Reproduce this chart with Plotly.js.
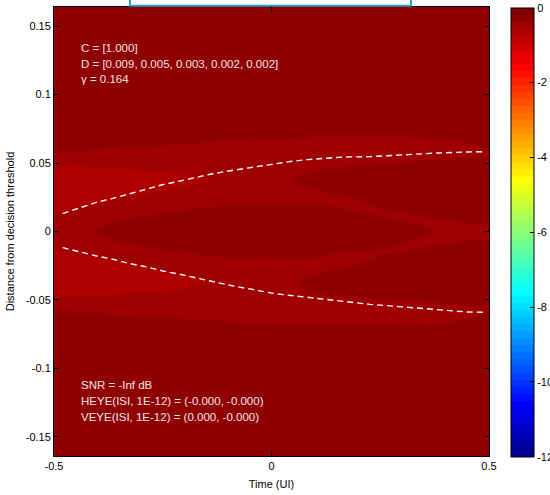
<!DOCTYPE html>
<html><head><meta charset="utf-8">
<script src="https://cdn.plot.ly/plotly-3.0.1.min.js"></script>
<style>html,body{margin:0;padding:0;background:#fff;}#chart{width:550px;height:495px;}</style>
</head><body><div id="chart"></div>
<script>
// ---------- data ----------
const zMin = -12, zMax = 0;
const cbTickVals = [-12, -10, -8, -6, -4, -2, 0];
const cbTickText = ['-12', '-10', '-8', '-6', '-4', '-2', '0'];
const xTickVals = [-0.5, 0, 0.5];
const xTickText = ['-0.5', '0', '0.5'];
const yTickVals = [-0.15, -0.1, -0.05, 0, 0.05, 0.1, 0.15];
const yTickText = ['-0.15', '-0.1', '-0.05', '0', '0.05', '0.1', '0.15'];

// level (log10) of each zone
const darkValue = -0.28;
const mediumValue = -0.47;
const lightValue = -0.66;

// background field (whole plane)
const baseX = [-0.5, 0.5];
const baseY = [-0.164, 0.164];

// medium band around the eye
const bandX = [-0.5, 0.5];
const bandTop = [0.057, 0.058];
const bandBottom = [-0.057, -0.057];

// light wedges on the left
const lightUpX = [-0.5, -0.45, -0.4, -0.3, -0.2, -0.14];
const lightUpTop = [0.048, 0.0475, 0.047, 0.045, 0.042, 0.037];
const lightUpBottom = [0.012, 0.016, 0.020, 0.027, 0.033, 0.037];
const lightLoX = [-0.5, -0.45, -0.4, -0.3, -0.2, -0.14];
const lightLoTop = [-0.012, -0.016, -0.019, -0.026, -0.032, -0.036];
const lightLoBottom = [-0.048, -0.0475, -0.047, -0.045, -0.042, -0.036];

// dark eye centre
const eyeX = [-0.41, -0.35, -0.28, -0.16, -0.1, 0, 0.1, 0.157, 0.27, 0.35, 0.38];
const eyeTop = [0, 0.008, 0.012, 0.017, 0.019, 0.020, 0.0195, 0.017, 0.010, 0.004, 0];
const eyeBottom = [0, -0.008, -0.012, -0.017, -0.019, -0.019, -0.019, -0.016, -0.012, -0.004, 0];

// dark lobes on the right
const lobeUpX = [0.043, 0.1, 0.157, 0.27, 0.38, 0.5];
const lobeUpTop = [0.037, 0.045, 0.047, 0.050, 0.052, 0.053];
const lobeUpBottom = [0.037, 0.030, 0.026, 0.015, 0.0095, 0.007];
const lobeLoX = [0.06, 0.1, 0.157, 0.27, 0.38, 0.5];
const lobeLoTop = [-0.038, -0.031, -0.027, -0.016, -0.010, -0.007];
const lobeLoBottom = [-0.038, -0.045, -0.047, -0.050, -0.052, -0.053];

// dashed eye contour
const upperEdgeX = [-0.48, -0.44, -0.40, -0.367, -0.325, -0.287, -0.249, -0.21, -0.172, -0.141, -0.103, -0.069, -0.03, 0.008, 0.043, 0.081, 0.119, 0.165, 0.226, 0.265, 0.337, 0.38, 0.449, 0.487];
const upperEdgeY = [0.0131, 0.0172, 0.0216, 0.024, 0.0277, 0.0308, 0.0343, 0.0369, 0.0398, 0.0418, 0.044, 0.0457, 0.0479, 0.0496, 0.0511, 0.0525, 0.0533, 0.0544, 0.0547, 0.0554, 0.0564, 0.0573, 0.0581, 0.0583];
const lowerEdgeX = [-0.48, -0.44, -0.402, -0.364, -0.325, -0.287, -0.249, -0.21, -0.172, -0.141, -0.103, -0.069, -0.03, 0.008, 0.043, 0.081, 0.119, 0.165, 0.226, 0.295, 0.341, 0.38, 0.41, 0.449, 0.487];
const lowerEdgeY = [-0.0118, -0.015, -0.0179, -0.0203, -0.0235, -0.0259, -0.0289, -0.0313, -0.0337, -0.0362, -0.0388, -0.041, -0.0432, -0.0454, -0.0466, -0.0483, -0.0497, -0.051, -0.0532, -0.0549, -0.0559, -0.0568, -0.0578, -0.0588, -0.059];

const topNotes = ['C = [1.000]', 'D = [0.009, 0.005, 0.003, 0.002, 0.002]', '\u03b3 = 0.164'];
const bottomNotes = ['SNR = -Inf dB', 'HEYE(ISI, 1E-12) = (-0.000, -0.000)', 'VEYE(ISI, 1E-12) = (0.000, -0.000)'];

// ---------- MATLAB jet(64) colormap ----------
function jet64() {
  const m = 64, n = 16;
  const u = [];
  for (let i = 1; i <= n; i++) u.push(i / n);
  for (let i = 0; i < n - 1; i++) u.push(1);
  for (let i = n; i >= 1; i--) u.push(i / n);
  const r = new Array(m).fill(0), g = new Array(m).fill(0), b = new Array(m).fill(0);
  for (let k = 0; k < u.length; k++) {
    const gi = Math.ceil(n / 2) + k + 1; // 1-based
    const ri = gi + n, bi = gi - n;
    if (gi >= 1 && gi <= m) g[gi - 1] = u[k];
    if (ri >= 1 && ri <= m) r[ri - 1] = u[k];
    if (bi >= 1 && bi <= m) b[bi - 1] = u[k];
  }
  const out = [];
  for (let i = 0; i < m; i++) out.push('rgb(' + Math.round(r[i] * 255) + ',' + Math.round(g[i] * 255) + ',' + Math.round(b[i] * 255) + ')');
  return out;
}
const jet = jet64();
const colorscale = [];
jet.forEach((c, i) => { colorscale.push([i / 64, c]); colorscale.push([(i + 1) / 64, c]); });
function colorFor(v) {
  const idx = Math.max(0, Math.min(63, Math.floor((v - zMin) / (zMax - zMin) * 64)));
  return jet[idx];
}

function zone(xs, top, bottom, value) {
  const c = colorFor(value);
  return {
    type: 'scatter', mode: 'lines',
    x: xs.concat(xs.slice().reverse()),
    y: top.concat(bottom.slice().reverse()),
    fill: 'toself', fillcolor: c,
    line: {width: 0, color: c, shape: 'spline', smoothing: 0.6},
    hoverinfo: 'skip', showlegend: false
  };
}

const traces = [
  {
    type: 'heatmap', x: baseX, y: baseY,
    z: [[darkValue, darkValue], [darkValue, darkValue]],
    zmin: zMin, zmax: zMax, colorscale: colorscale, zsmooth: false,
    hoverinfo: 'skip',
    colorbar: {
      x: 1.0506, xanchor: 'left', y: 0.4985, yanchor: 'middle',
      len: 1.0, lenmode: 'fraction', thickness: 23, thicknessmode: 'pixels',
      outlinewidth: 1, outlinecolor: '#000', xpad: 0, ypad: 0,
      tickmode: 'array', tickvals: cbTickVals, ticktext: cbTickText,
      ticks: 'inside', ticklen: 4, tickcolor: '#000', tickwidth: 1,
      tickfont: {family: 'Liberation Sans, Arial, sans-serif', size: 11, color: '#000'}
    }
  },
  zone(bandX, bandTop, bandBottom, mediumValue),
  zone(lightUpX, lightUpTop, lightUpBottom, lightValue),
  zone(lightLoX, lightLoTop, lightLoBottom, lightValue),
  zone(eyeX, eyeTop, eyeBottom, darkValue),
  zone(lobeUpX, lobeUpTop, lobeUpBottom, darkValue),
  zone(lobeLoX, lobeLoTop, lobeLoBottom, darkValue),
  {type: 'scatter', mode: 'lines', x: upperEdgeX, y: upperEdgeY,
   line: {color: '#ffffff', width: 1.4, dash: '6px,4px'}, hoverinfo: 'skip', showlegend: false},
  {type: 'scatter', mode: 'lines', x: lowerEdgeX, y: lowerEdgeY,
   line: {color: '#ffffff', width: 1.4, dash: '6px,4px'}, hoverinfo: 'skip', showlegend: false}
];

const noteFont = {family: 'Liberation Sans, Arial, sans-serif', size: 11.5, color: '#f3e4e4'};
const topY = [0.1338, 0.1225, 0.1112];
const botY = [-0.1124, -0.124, -0.1354];
const annotations = [];
topNotes.forEach((t, i) => annotations.push({xref: 'x', yref: 'y', x: -0.4425, y: topY[i], text: t, showarrow: false, xanchor: 'left', yanchor: 'middle', font: noteFont}));
bottomNotes.forEach((t, i) => annotations.push({xref: 'x', yref: 'y', x: -0.4425, y: botY[i], text: t, showarrow: false, xanchor: 'left', yanchor: 'middle', font: noteFont}));

const axisFont = {family: 'Liberation Sans, Arial, sans-serif', size: 11, color: '#000'};
const layout = {
  width: 550, height: 495,
  margin: {l: 54, r: 61, t: 7, b: 39, pad: 0, autoexpand: false},
  paper_bgcolor: '#ffffff', plot_bgcolor: colorFor(darkValue),
  font: axisFont,
  showlegend: false,
  xaxis: {
    range: [-0.5, 0.5], tickmode: 'array', tickvals: xTickVals, ticktext: xTickText,
    ticks: 'inside', ticklen: 5, tickcolor: '#000', showline: true, linecolor: '#000', linewidth: 1,
    mirror: 'ticks', showgrid: false, zeroline: false, tickfont: axisFont, automargin: false,
    title: {text: 'Time (UI)', font: axisFont, standoff: 9}
  },
  yaxis: {
    range: [-0.164, 0.164], tickmode: 'array', tickvals: yTickVals, ticktext: yTickText,
    ticks: 'inside', ticklen: 5, tickcolor: '#000', showline: true, linecolor: '#000', linewidth: 1,
    mirror: 'ticks', showgrid: false, zeroline: false, tickfont: axisFont, automargin: false,
    title: {text: 'Distance from decision threshold', font: axisFont, standoff: 8}
  },
  annotations: annotations,
  shapes: [
    {type: 'rect', xref: 'paper', yref: 'paper', x0: 0.1747, x1: 0.8207, y0: 1.003, y1: 1.06,
     line: {color: '#2aa2c0', width: 2}, fillcolor: '#ffffff', layer: 'above'}
  ]
};

Plotly.newPlot('chart', traces, layout, {displayModeBar: false, staticPlot: true});
</script>
</body></html>
